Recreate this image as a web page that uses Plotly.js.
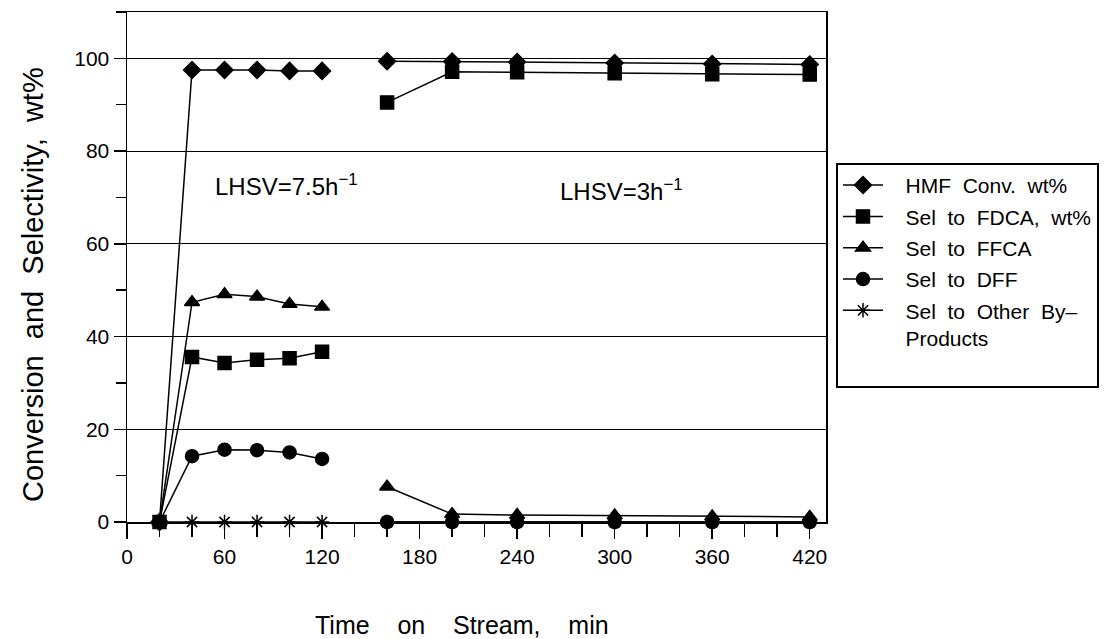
<!DOCTYPE html>
<html>
<head>
<meta charset="utf-8">
<script src="https://cdn.plot.ly/plotly-3.0.1.min.js"></script>
<style>html,body{margin:0;padding:0;background:#fff;}#chart{width:1115px;height:639px;}</style>
</head>
<body>
<div id="chart"></div>
<script>
// Time on stream (min) for the two LHSV runs
const timeRun1 = [20, 40, 60, 80, 100, 120];
const timeRun2 = [160, 200, 240, 300, 360, 420];

// Series values (wt%)
const hmfConvRun1 = [0, 97.5, 97.5, 97.5, 97.3, 97.3];
const hmfConvRun2 = [99.4, 99.3, 99.2, 99.0, 98.8, 98.7];
const selFdcaRun1 = [0, 35.6, 34.3, 35.0, 35.3, 36.7];
const selFdcaRun2 = [90.5, 97.1, 97.0, 96.8, 96.6, 96.5];
const selFfcaRun1 = [0, 47.4, 49.1, 48.6, 47.0, 46.4];
const selFfcaRun2 = [7.6, 1.7, 1.5, 1.4, 1.2, 1.1];
const selDffRun1 = [0, 14.2, 15.6, 15.5, 15.0, 13.6];
const selDffRun2 = [0, 0, 0, 0, 0, 0];
const selOtherRun1 = [0, 0, 0, 0, 0, 0];
const selOtherRun2 = [0, 0, 0, 0, 0, 0];

const S = "\u00a0\u00a0";
const P = "\u00a0\u00a0\u00a0";
const seriesNames = [
  P + "HMF" + S + "Conv." + S + "wt%",
  P + "Sel" + S + "to" + S + "FDCA," + S + "wt%",
  P + "Sel" + S + "to" + S + "FFCA",
  P + "Sel" + S + "to" + S + "DFF",
  P + "Sel" + S + "to" + S + "Other" + S + "By\u2013<br>" + P + "Products<br>\u00a0"
];
const xTickVals = [0, 60, 120, 180, 240, 300, 360, 420];
const yTickVals = [0, 20, 40, 60, 80, 100];
const annotationTexts = ["LHSV=7.5h<sup>\u22121</sup>", "LHSV=3h<sup>\u22121</sup>"];
const T4 = "\u00a0\u00a0\u00a0\u00a0";
const T2 = "\u00a0\u00a0";
const xTitle = "Time" + T4 + "on" + T4 + "Stream," + T4 + "min";
const yTitle = "Conversion" + T2 + "and" + T2 + "Selectivity," + T2 + "wt%";

const FONT = "Liberation Sans, Arial, sans-serif";
const xs = [...timeRun1, null, ...timeRun2];
function join(a, b) { return [...a, null, ...b]; }

const seriesData = [
  join(hmfConvRun1, hmfConvRun2),
  join(selFdcaRun1, selFdcaRun2),
  join(selFfcaRun1, selFfcaRun2),
  join(selDffRun1, selDffRun2),
  join(selOtherRun1, selOtherRun2)
];
const markerStyles = [
  {symbol: "diamond", size: 13},
  {symbol: "square", size: 13},
  {symbol: "triangle-up", size: 13},
  {symbol: "circle", size: 13},
  {symbol: "asterisk-open", size: 12}
];

const traces = seriesData.map((ys, i) => ({
  x: xs, y: ys, name: seriesNames[i], type: "scatter", mode: "lines+markers",
  connectgaps: false, cliponaxis: false, legendgroup: "g" + i,
  line: {color: "#000", width: 1.5},
  marker: {symbol: markerStyles[i].symbol, size: markerStyles[i].size, color: "#000",
           line: {color: "#000", width: 1.5}}
}));

const layout = {
  width: 1115, height: 639,
  margin: {l: 127, r: 289, t: 12, b: 117},
  paper_bgcolor: "#fff", plot_bgcolor: "#fff",
  font: {family: FONT, size: 20, color: "#000"},
  showlegend: true,
  legend: {
    x: 1.0143, xanchor: "left", y: 0.704, yanchor: "top", valign: "top",
    bordercolor: "#000", borderwidth: 2, bgcolor: "#fff",
    font: {family: FONT, size: 21, color: "#000"},
    traceorder: "grouped", tracegroupgap: 1, itemwidth: 40
  },
  xaxis: {
    range: [0, 430], tickvals: xTickVals, ticktext: xTickVals.map(String),
    ticks: "outside", ticklen: 15, tickwidth: 1.5, tickcolor: "#000",
    minor: {dtick: 20, tick0: 0, ticks: "outside", ticklen: 13, tickwidth: 1.5, tickcolor: "#000", showgrid: false},
    showline: true, linecolor: "#000", linewidth: 1.5, mirror: true,
    showgrid: false, zeroline: false,
    tickfont: {family: FONT, size: 21}
  },
  yaxis: {
    range: [0, 110], tickvals: yTickVals, ticktext: yTickVals.map(String),
    ticks: "outside", ticklen: 12, tickwidth: 1.5, tickcolor: "#000",
    minor: {dtick: 10, tick0: 0, ticks: "outside", ticklen: 10, tickwidth: 1.5, tickcolor: "#000", showgrid: false},
    showline: true, linecolor: "#000", linewidth: 1.5, mirror: true,
    showgrid: true, gridcolor: "#000", gridwidth: 1, zeroline: false,
    tickfont: {family: FONT, size: 21}
  },
  annotations: [
    {x: 53, y: 72.7, xref: "x", yref: "y", xanchor: "left", yanchor: "middle", showarrow: false,
     text: annotationTexts[0], font: {family: FONT, size: 24, color: "#000"}},
    {x: 265, y: 71.6, xref: "x", yref: "y", xanchor: "left", yanchor: "middle", showarrow: false,
     text: annotationTexts[1], font: {family: FONT, size: 24, color: "#000"}},
    {x: 0.479, y: -0.202, xref: "paper", yref: "paper", xanchor: "center", yanchor: "middle", showarrow: false,
     text: xTitle, font: {family: FONT, size: 25, color: "#000"}},
    {x: -0.1345, y: 0.4667, xref: "paper", yref: "paper", xanchor: "center", yanchor: "middle", showarrow: false,
     textangle: -90, text: yTitle, font: {family: FONT, size: 29, color: "#000"}}
  ]
};

Plotly.newPlot("chart", traces, layout, {displayModeBar: false, staticPlot: true});
</script>
</body>
</html>
